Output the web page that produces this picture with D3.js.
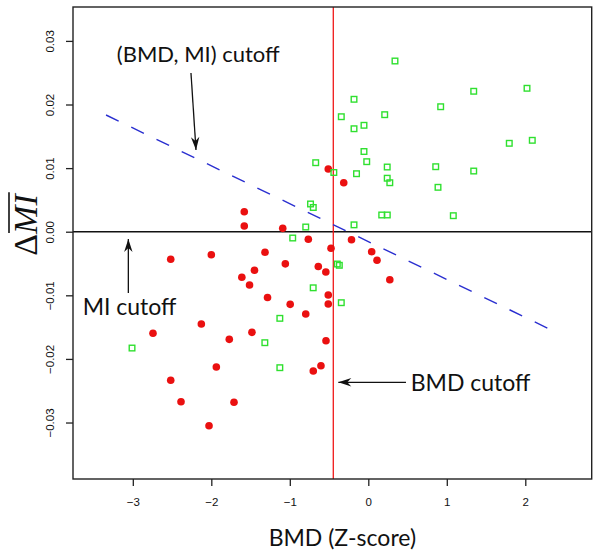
<!DOCTYPE html>
<html><head><meta charset="utf-8">
<script src="https://cdn.jsdelivr.net/npm/d3@7"></script>
<style>body{margin:0;background:#fff}</style>
</head><body>
<svg id="chart" width="600" height="554"></svg>
<script>
// ---- data ----
const greenX = [0.340, 1.343, 2.022, -0.182, 0.922, -0.344, 0.209, -0.182, -0.055, 1.796, 2.089, -0.055, -0.020, -0.670, -0.439, -0.150, 0.241, 0.859, 1.343, 0.241, 0.274, 0.888, 0.171, 0.242, 1.083, -0.182, -0.736, -0.701, -0.797, -0.963, -0.395, -0.369, -0.344, -0.702, -1.127, -1.318, -1.127, -3.010];
const greenY = [0.02684, 0.02208, 0.02255, 0.02082, 0.01965, 0.01808, 0.01840, 0.01619, 0.01673, 0.01390, 0.01437, 0.01261, 0.01101, 0.01085, 0.00931, 0.00912, 0.01017, 0.01022, 0.00954, 0.00841, 0.00770, 0.00698, 0.00263, 0.00263, 0.00252, 0.00108, 0.00436, 0.00381, 0.00074, -0.00099, -0.00508, -0.00528, -0.01116, -0.00882, -0.01362, -0.01745, -0.02138, -0.01829];
const redX = [-0.510, -0.313, -1.580, -1.580, -1.090, -0.764, -0.214, -0.475, -1.316, 0.043, 0.111, -2.000, -2.517, -1.057, -0.637, -0.541, -1.450, 0.274, -1.611, -1.513, -0.510, -1.284, -0.510, -0.995, -0.797, -1.482, -0.539, -2.127, -2.743, -1.771, -1.936, -0.603, -0.701, -2.517, -2.386, -1.711, -2.029];
const redY = [0.00986, 0.00770, 0.00314, 0.00090, 0.00053, -0.00118, -0.00127, -0.00261, -0.00324, -0.00314, -0.00448, -0.00362, -0.00434, -0.00505, -0.00547, -0.00634, -0.00607, -0.00755, -0.00717, -0.00838, -0.00995, -0.01035, -0.01137, -0.01142, -0.01294, -0.01582, -0.01714, -0.01451, -0.01597, -0.01692, -0.02127, -0.02108, -0.02190, -0.02336, -0.02673, -0.02682, -0.03050];
const xTicks = [-3, -2, -1, 0, 1, 2];
const yTicks = [-0.03, -0.02, -0.01, 0, 0.01, 0.02, 0.03];
const xDomain = [-3.762, 2.846];
const yDomain = [-0.03888, 0.03533];
const bmdCutoff = -0.446;
const miCutoff = 0;
const jointCutoffX = [-3.341, 2.378];
const jointCutoffY = [0.01835, -0.01572];
const xTitle = "BMD (Z-score)";
const annotations = [
  {text: "(BMD, MI) cutoff", tx: -2.166, ty: 0.02673, anchor: "middle", size: 22, ax1: -2.259, ay1: 0.02495, ax2: -2.195, ay2: 0.01285},
  {text: "MI cutoff", tx: -3.042, ty: -0.01310, anchor: "middle", size: 23, ax1: -3.057, ay1: -0.00964, ax2: -3.057, ay2: -0.00115},
  {text: "BMD cutoff", tx: 0.540, ty: -0.02500, anchor: "start", size: 23, ax1: 0.480, ay1: -0.02368, ax2: -0.382, ay2: -0.02368}
];

// ---- layout ----
const W = 600, H = 554;
const m = {l: 73, r: 8.3, t: 7, b: 75};
const svg = d3.select("#chart");
const x = d3.scaleLinear().domain(xDomain).range([m.l, W - m.r]);
const y = d3.scaleLinear().domain(yDomain).range([H - m.b, m.t]);

svg.append("defs").append("clipPath").attr("id", "clip")
  .append("rect").attr("x", m.l).attr("y", m.t)
  .attr("width", W - m.l - m.r).attr("height", H - m.t - m.b);

const plot = svg.append("g").attr("clip-path", "url(#clip)");

// cutoff lines
plot.append("line")
  .attr("x1", x(xDomain[0])).attr("x2", x(xDomain[1]))
  .attr("y1", y(miCutoff)).attr("y2", y(miCutoff))
  .attr("stroke", "#111").attr("stroke-width", 1.5);
plot.append("line")
  .attr("x1", x(bmdCutoff)).attr("x2", x(bmdCutoff))
  .attr("y1", y(yDomain[0])).attr("y2", y(yDomain[1]))
  .attr("stroke", "#f01818").attr("stroke-width", 1.3);
plot.append("line")
  .attr("x1", x(jointCutoffX[0])).attr("y1", y(jointCutoffY[0]))
  .attr("x2", x(jointCutoffX[1])).attr("y2", y(jointCutoffY[1]))
  .attr("stroke", "#2a2fd0").attr("stroke-width", 1.4)
  .attr("stroke-dasharray", "14,14");

// points
const red = redX.map((v, i) => ({x: v, y: redY[i]}));
const green = greenX.map((v, i) => ({x: v, y: greenY[i]}));
plot.selectAll("circle.red").data(red).enter().append("circle")
  .attr("class", "red")
  .attr("cx", d => x(d.x)).attr("cy", d => y(d.y)).attr("r", 3.8)
  .attr("fill", "#ea1010");
const s = 5.6;
plot.selectAll("rect.green").data(green).enter().append("rect")
  .attr("class", "green")
  .attr("x", d => x(d.x) - s / 2).attr("y", d => y(d.y) - s / 2)
  .attr("width", s).attr("height", s)
  .attr("fill", "none").attr("stroke", "#2fe02f").attr("stroke-width", 1.4);

// box
svg.append("rect").attr("x", m.l).attr("y", m.t)
  .attr("width", W - m.l - m.r).attr("height", H - m.t - m.b)
  .attr("fill", "none").attr("stroke", "#222").attr("stroke-width", 1.4);

// axes
const fmtX = d => (d < 0 ? "\u2212" + Math.abs(d) : String(d));
const fmtY = d => (d < 0 ? "\u2212" + d3.format(".2f")(Math.abs(d)) : d3.format(".2f")(d));
const gx = svg.append("g").attr("transform", `translate(0,${H - m.b})`)
  .call(d3.axisBottom(x).tickValues(xTicks).tickSize(7).tickSizeOuter(0).tickFormat(fmtX));
gx.select(".domain").remove();
gx.selectAll(".tick line").attr("stroke", "#222").attr("stroke-width", 1.3);
gx.selectAll(".tick text").attr("y", 23).attr("dy", "0.35em")
  .attr("font-family", "Liberation Sans, Arial, sans-serif").attr("font-size", 11.5).attr("fill", "#111");

const gy = svg.append("g").attr("transform", `translate(${m.l},0)`)
  .call(d3.axisLeft(y).tickValues(yTicks).tickSize(7).tickSizeOuter(0).tickFormat(fmtY));
gy.select(".domain").remove();
gy.selectAll(".tick line").attr("stroke", "#222").attr("stroke-width", 1.3);
gy.selectAll(".tick text")
  .attr("x", 0).attr("y", -23).attr("dy", "0.35em")
  .attr("transform", "rotate(-90)")
  .attr("text-anchor", "middle")
  .attr("font-family", "Liberation Sans, Arial, sans-serif").attr("font-size", 11.5).attr("fill", "#111");

// x title
svg.append("text").attr("x", (x(xDomain[0]) + x(xDomain[1])) / 2 + 10).attr("y", 546)
  .attr("text-anchor", "middle").attr("font-family", "Lato, sans-serif").attr("font-size", 23)
  .attr("fill", "#111").text(xTitle);

// y title: Delta MI with overline on MI
const yt = svg.append("g").attr("transform", "translate(0,225) rotate(-90)");
const t = yt.append("text").attr("y", 37).attr("font-family", "Liberation Serif, Times New Roman, serif")
  .attr("font-size", 34).attr("fill", "#111");
t.append("tspan").text("\u0394");
t.append("tspan").attr("font-style", "italic").text("MI");
const total = t.node().getComputedTextLength();
t.attr("x", -total / 2);
const eM = t.node().getExtentOfChar(1);
const eI = t.node().getExtentOfChar(2);
yt.append("line").attr("x1", eM.x + 1).attr("x2", eI.x + eI.width + 2)
  .attr("y1", 9).attr("y2", 9).attr("stroke", "#111").attr("stroke-width", 1.6);

// annotations
function arrow(g, x1, y1, x2, y2) {
  g.append("line").attr("x1", x1).attr("y1", y1).attr("x2", x2).attr("y2", y2)
    .attr("stroke", "#111").attr("stroke-width", 1.3);
  const ang = Math.atan2(y2 - y1, x2 - x1);
  const L = 13, Wd = 4.2, notch = 9;
  const pts = [
    [0, 0], [-L, -Wd], [-notch, 0], [-L, Wd]
  ].map(([a, b]) => [x2 + a * Math.cos(ang) - b * Math.sin(ang), y2 + a * Math.sin(ang) + b * Math.cos(ang)]);
  g.append("path").attr("d", "M" + pts.map(p => p.join(",")).join("L") + "Z").attr("fill", "#111");
}
const ga = svg.append("g");
annotations.forEach(a => {
  ga.append("text").attr("x", x(a.tx)).attr("y", y(a.ty)).attr("text-anchor", a.anchor)
    .attr("font-family", "Lato, sans-serif").attr("font-size", a.size).attr("fill", "#111").text(a.text);
  arrow(ga, x(a.ax1), y(a.ay1), x(a.ax2), y(a.ay2));
});
</script>
</body></html>
